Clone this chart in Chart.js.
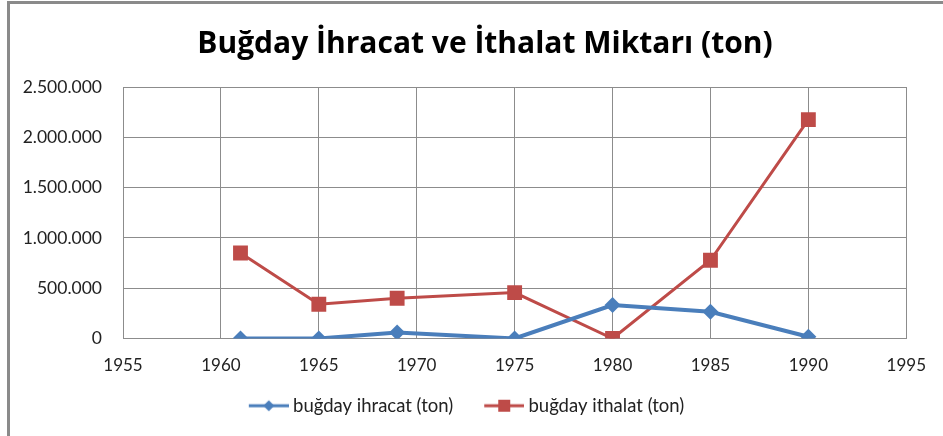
<!DOCTYPE html>
<html>
<head>
<meta charset="utf-8">
<script src="https://cdn.jsdelivr.net/npm/chart.js@4/dist/chart.umd.min.js"></script>
<style>
  body { margin: 0; background: #fff; }
  #wrap { position: relative; width: 943px; height: 436px; overflow: hidden; }
  #frame { position: absolute; left: 7px; top: 1px; width: 1000px; height: 1000px; border: 3px solid #8a8a8a; box-sizing: border-box; }
  canvas { position: absolute; left: 0; top: 0; }
</style>
</head>
<body>
<div id="wrap">
  <div id="frame"></div>
  <canvas id="chart" width="943" height="436"></canvas>
</div>
<script>
const years = [1961, 1965, 1969, 1975, 1980, 1985, 1990];
const ihracat = [0, 0, 60000, 0, 333000, 266000, 18000];
const ithalat = [850000, 340000, 400000, 456000, 0, 778000, 2176000];
const yTicks = [0, 500000, 1000000, 1500000, 2000000, 2500000];
const xTicks = [1955, 1960, 1965, 1970, 1975, 1980, 1985, 1990, 1995];

const blue = '#4a7ebb';
const red = '#be4b48';

function dots(v) {
    return String(v).replace(/\B(?=(\d{3})+(?!\d))/g, '.');
}

// legend symbol: short line with the marker in the middle
// (empty space on the left so the line sits close to its text)
function legendIcon(color, shape) {
    const c = document.createElement('canvas');
    c.width = 58; c.height = 14;
    const g = c.getContext('2d');
    g.strokeStyle = color;
    g.lineWidth = 3;
    g.beginPath(); g.moveTo(18, 7); g.lineTo(58, 7); g.stroke();
    g.fillStyle = color;
    if (shape === 'diamond') {
        g.beginPath(); g.moveTo(38, 1.5); g.lineTo(43.5, 7); g.lineTo(38, 12.5); g.lineTo(32.5, 7); g.closePath(); g.fill();
    } else {
        g.fillRect(32, 1, 12, 12);
    }
    return c;
}

// title in the original sits a bit right of the canvas centre
const titleShift = {
    id: 'titleShift',
    afterLayout(chart) {
        chart.titleBlock.left += 50;
    }
};

const ctx = document.getElementById('chart').getContext('2d');
new Chart(ctx, {
    type: 'line',
    data: {
        datasets: [{
            label: 'buğday ihracat (ton)',
            data: years.map((y, i) => ({ x: y, y: ihracat[i] })),
            borderColor: blue,
            backgroundColor: blue,
            borderWidth: 4,
            pointStyle: 'rectRot',
            pointRadius: 8,
            pointBorderWidth: 0,
            legendIcon: legendIcon(blue, 'diamond')
        }, {
            label: 'buğday ithalat (ton)',
            data: years.map((y, i) => ({ x: y, y: ithalat[i] })),
            borderColor: red,
            backgroundColor: red,
            borderWidth: 3,
            pointStyle: 'rect',
            pointRadius: 10.5,
            pointBorderWidth: 0,
            legendIcon: legendIcon(red, 'square')
        }]
    },
    options: {
        responsive: false,
        animation: false,
        layout: { padding: { left: 10, right: 33, top: 10, bottom: 11 } },
        scales: {
            x: {
                type: 'linear',
                min: 1955,
                max: 1995,
                afterBuildTicks: axis => { axis.ticks = xTicks.map(v => ({ value: v })); },
                afterFit: axis => { axis.height = 40; },
                ticks: {
                    callback: v => String(v),
                    color: '#222',
                    padding: 17,
                    maxRotation: 0,
                    font: { family: 'Lato', size: 17 }
                },
                grid: { color: '#8c8c8c', drawTicks: false },
                border: { color: '#8c8c8c' }
            },
            y: {
                min: 0,
                max: 2500000,
                afterBuildTicks: axis => { axis.ticks = yTicks.map(v => ({ value: v })); },
                afterFit: axis => { axis.width = 113; },
                ticks: {
                    callback: v => dots(v),
                    color: '#222',
                    padding: 21,
                    font: { family: 'Lato', size: 17.5 }
                },
                grid: { color: '#8c8c8c', drawTicks: false },
                border: { color: '#8c8c8c' }
            }
        },
        plugins: {
            title: {
                display: true,
                text: 'Buğday İhracat ve İthalat Miktarı (ton)',
                color: '#000',
                font: { family: 'Open Sans', size: 30, weight: 'bold' },
                padding: { top: 16, bottom: 25 }
            },
            legend: {
                position: 'bottom',
                labels: {
                    usePointStyle: true,
                    pointStyleWidth: 48,
                    padding: 18,
                    color: '#222',
                    font: { family: 'Lato', size: 18.5 },
                    generateLabels: chart => chart.data.datasets.map((ds, i) => ({
                        text: ds.label,
                        pointStyle: ds.legendIcon,
                        fontColor: '#222',
                        datasetIndex: i,
                        hidden: false,
                        lineWidth: 0
                    }))
                }
            },
            tooltip: { enabled: false }
        }
    },
    plugins: [titleShift]
});
</script>
</body>
</html>
